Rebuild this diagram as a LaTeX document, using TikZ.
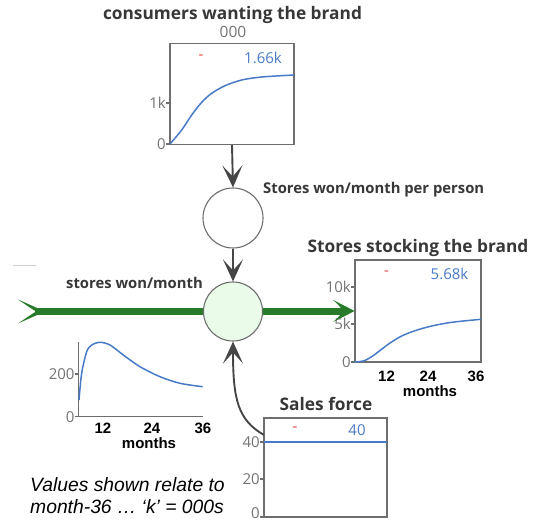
\documentclass[tikz,border=0pt]{standalone}
\usepackage{fontspec}
\setmainfont{Open Sans}
\newfontfamily\arialfont{Liberation Sans}
\usetikzlibrary{arrows.meta}
\definecolor{boxgray}{RGB}{110,110,110}
\definecolor{tickgray}{RGB}{115,115,115}
\definecolor{titlegray}{RGB}{55,55,55}
\definecolor{arrowgray}{RGB}{70,70,70}
\definecolor{flowgreen}{RGB}{38,122,42}
\definecolor{palegreen}{RGB}{234,251,234}
\definecolor{curveblue}{RGB}{72,122,200}
\definecolor{markred}{RGB}{235,70,70}
\tikzset{
  graphbox/.style={draw=boxgray, line width=1.1pt, minimum width=#1, inner sep=0pt},
  auxcircle/.style={circle, draw=boxgray, line width=1.1pt, fill=white, minimum size=60pt, inner sep=0pt},
  flowcircle/.style={circle, draw=boxgray, line width=1.1pt, fill=palegreen, minimum size=59pt, inner sep=0pt},
  title/.style={font=\fontsize{17.3}{19}\selectfont\bfseries, text=titlegray, inner sep=0pt},
  label/.style={font=\fontsize{14.8}{16}\selectfont\bfseries, text=titlegray, inner sep=0pt},
  ticklab/.style={font=\fontsize{15}{16}\selectfont, text=tickgray, inner sep=0pt, anchor=east},
  valuelab/.style={font=\fontsize{15}{16}\selectfont, text=curveblue, inner sep=0pt},
  redmark/.style={font=\fontsize{15}{16}\selectfont, text=markred, inner sep=0pt},
  monthlab/.style={font=\arialfont\fontsize{15}{16}\selectfont\bfseries, text=black, inner sep=0pt},
  curve/.style={draw=curveblue, line width=1.5pt},
  tickmark/.style={draw=boxgray, line width=1.1pt},
  conn/.style={draw=arrowgray, line width=1.9pt, -{Stealth[length=22pt,width=20pt,inset=11pt]}},
  flow/.style={draw=flowgreen, line width=7.5pt},
}
\begin{document}
\begin{tikzpicture}[x=1pt,y=-1pt]
\useasboundingbox (0,0) rectangle (536,521);

% ---- consumers wanting the brand (stock)
\node[title] (cwt) at (232.5,15) {consumers wanting the brand};
\node[font=\fontsize{15.5}{16}\selectfont, text=tickgray, inner sep=0pt] (cwu) at (233,32) {000};
\node[graphbox=124pt, minimum height=101pt] (cw) at (232,94) {};
\draw[curve] plot[smooth] coordinates {(170,144) (181.7,130) (191.7,115) (201.7,102.3) (211.7,93.3) (225,85.7) (241.7,80) (261.7,77) (294,75)};
\draw[tickmark] (166,103) -- (170,103);
\draw[tickmark] (166,144) -- (170,144);
\node[ticklab] (cw1k) at (166,103) {1k};
\node[ticklab] (cw0) at (166,144) {0};
\node[redmark] (cwr) at (201,57) {-};
\node[valuelab] (cwv) at (263,58) {1.66k};

% ---- stores won/month per person (auxiliary)
\node[auxcircle] (spp) at (233,218) {};
\node[label, anchor=west] (sppl) at (263,190) {Stores won/month per person};

% ---- stores won/month (flow valve)
\node[flowcircle] (swm) at (233,311.5) {};
\node[label] (swml) at (134.5,282.5) {stores won/month};

% ---- Stores stocking the brand (stock)
\node[title] (sst) at (418,248) {Stores stocking the brand};
\node[graphbox=126pt, minimum height=102pt] (ss) at (418,311) {};
\draw[curve] plot[smooth] coordinates {(355,362) (364,360.8) (372,356.5) (380,350.5) (390,343) (401.7,336) (415,330.7) (431.7,326) (451.7,322.3) (481,319.3)};
\draw[tickmark] (351,287) -- (355,287);
\draw[tickmark] (351,324) -- (355,324);
\draw[tickmark] (351,362) -- (355,362);
\node[ticklab] (ss10) at (351,287) {10k};
\node[ticklab] (ss5) at (351,324) {5k};
\node[ticklab] (ss0) at (351,362) {0};
\node[redmark] (ssr) at (386.5,273) {-};
\node[valuelab] (ssv) at (449.5,274) {5.68k};
\node[monthlab] (ss12) at (386.5,376) {12};
\node[monthlab] (ss24) at (428,376) {24};
\node[monthlab] (ss36) at (476,376) {36};
\node[monthlab] (ssm) at (430,391) {months};

% ---- flow graph (axes only)
\coordinate (fo) at (78.7,416.7);
\draw[tickmark] (78.7,342.5) -- (fo) -- (203,416.7);
\draw[tickmark] (74.7,374) -- (78.7,374);
\draw[tickmark] (74.7,416.7) -- (78.7,416.7);
\node[ticklab] (f200) at (74.7,374) {200};
\node[ticklab] (f0) at (74.7,416.7) {0};
\draw[curve] plot[smooth] coordinates {(79,400) (81.7,373) (86.7,351.7) (91.7,345) (100,342.3) (110,345) (123.3,355) (140,366.7) (160,376.7) (180,383.3) (202.7,386.7)};
\node[monthlab] (f12) at (103,428) {12};
\node[monthlab] (f24) at (152,428) {24};
\node[monthlab] (f36) at (203,428) {36};
\node[monthlab] (fm) at (149,443) {months};

% ---- Sales force (stock)
\node[title] (sft) at (326,404) {Sales force};
\node[graphbox=123pt, minimum height=99pt] (sf) at (325.5,467.5) {};
\draw[curve] (264,442) -- (387,442);
\draw[tickmark] (260,442) -- (264,442);
\draw[tickmark] (260,479) -- (264,479);
\draw[tickmark] (260,517) -- (264,517);
\node[ticklab] (sf40) at (260,442) {40};
\node[ticklab] (sf20) at (260,479) {20};
\node[ticklab] (sf0) at (260,513.5) {0};
\node[redmark] (sfr) at (295,429) {-};
\node[valuelab] (sfv) at (357,430) {40};
\coordinate (sfin) at (264,435);

% ---- note
\node[font=\arialfont\itshape\fontsize{19.3}{22}\selectfont, align=left, anchor=north west, inner sep=0pt] (note) at (30,477)
  {Values shown relate to\\month-36 … ‘k’ = 000s};

% ---- green material flow
\coordinate (src) at (35,311.5);
\draw[draw=black!20, line width=1pt] (13,266) -- (36,266);
\draw[flow] (src) -- (swm.west);
\draw[flow] (swm.east) -- (343,311.5);
\fill[flowgreen] (45,311.5) .. controls (32,305.5) .. (18,299.5) .. controls (27,305.5) and (31,308.5) .. (36,311.5)
  .. controls (31,314.5) and (27,317.5) .. (18,323.5) .. controls (32,317.5) .. (45,311.5) -- cycle;
\fill[flowgreen] (ss.west) .. controls (345,306) .. (333,300) .. controls (339,305) and (341,308) .. (343,311)
  .. controls (341,314) and (339,317) .. (333,322) .. controls (345,316) .. (ss.west) -- cycle;

% ---- information links
\draw[conn] (cw.south) -- (spp.north);
\draw[conn] (spp.south) -- (swm.north);
\draw[conn] (sfin) .. controls (238,420) and (233,400) .. (swm.south);
\end{tikzpicture}
\end{document}
